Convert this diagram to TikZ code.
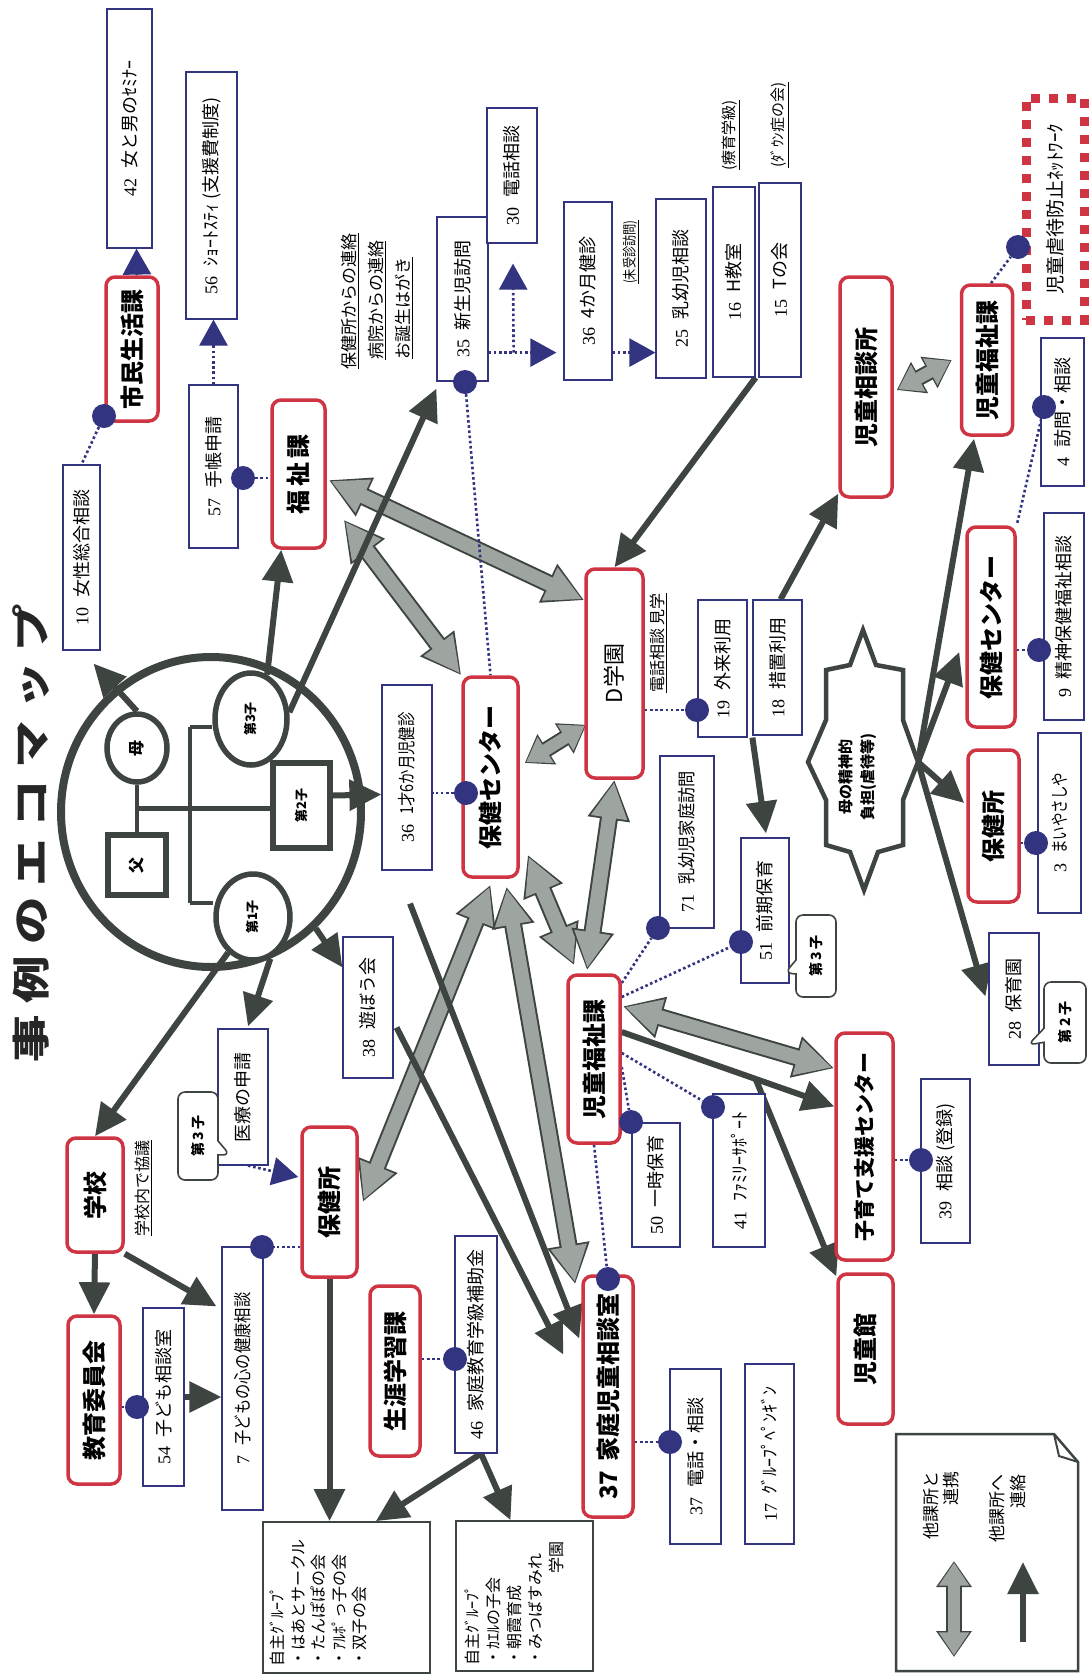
\documentclass[tikz,border=0pt]{standalone}
\usepackage{fontspec}
\usepackage{graphicx}
\setmainfont{Noto Sans CJK JP}
\newfontfamily\numfont{Liberation Serif}
\usepackage{tikz}
\usetikzlibrary{calc,arrows.meta,shapes.geometric,shapes.callouts}
\pgfdeclarelayer{background}
\pgfdeclarelayer{links}
\pgfsetlayers{background,links,main}

\definecolor{boxred}{RGB}{206,52,66}
\definecolor{navy}{RGB}{50,52,128}
\definecolor{darkline}{RGB}{62,68,64}
\definecolor{linkgray}{RGB}{158,165,161}

\newcommand{\vt}[1]{\rotatebox{90}{#1}}
\newcommand{\nb}[3][1]{\rotatebox{90}{{\numfont #2}\hspace{0.55em}\scalebox{#1}[1]{#3}}}
\newcommand{\undertxt}[2][1]{\rotatebox{90}{\scalebox{#1}[1]{\underline{#2}}}}
\newcommand{\fatlink}[2]{\draw[fatout] #1 -- #2; \draw[fatin] #1 -- #2;}
\newcommand{\fatlinkS}[2]{\draw[fatoutS] #1 -- #2; \draw[fatinS] #1 -- #2;}

\begin{document}
\begin{tikzpicture}[x=1pt, y=-1pt,
    agency/.style={draw=boxred, line width=3.5pt, rounded corners=9pt, fill=white, inner sep=0pt, font=\fontsize{24}{28}\selectfont\bfseries},
    service/.style={draw=navy, line width=1.2pt, fill=white, inner sep=0pt, font=\fontsize{18}{21}\selectfont},
    group/.style={draw=darkline, line width=1.8pt, fill=white, inner sep=0pt},
    dot/.style={circle, fill=navy, minimum size=24pt, inner sep=0pt},
    dotline/.style={navy, line width=2.6pt, dash pattern=on 2.6pt off 2.6pt},
    navarrow/.style={dotline, -{Triangle[length=26pt,width=28pt]}},
    contact/.style={darkline, line width=6pt, -{Triangle[length=32pt,width=30pt]}},
    fatout/.style={darkline, line width=18pt, {Triangle[length=40pt,width=40pt]}-{Triangle[length=40pt,width=40pt]}},
    fatin/.style={linkgray, line width=14pt, shorten <=2.2pt, shorten >=2.2pt, {Triangle[length=36pt,width=34pt]}-{Triangle[length=36pt,width=34pt]}},
    fatoutS/.style={darkline, line width=16pt, {Triangle[length=26pt,width=34pt]}-{Triangle[length=26pt,width=34pt]}},
    fatinS/.style={linkgray, line width=12pt, shorten <=1.6pt, shorten >=1.6pt, {Triangle[length=23pt,width=29pt]}-{Triangle[length=23pt,width=29pt]}},
    member/.style={draw=darkline, line width=5.5pt, fill=white, inner sep=0pt, font=\fontsize{13}{15}\selectfont\bfseries},
    kin/.style={darkline, line width=4.5pt},
    note/.style={inner sep=0pt, font=\fontsize{17}{20}\selectfont},
    bubble/.style={rectangle callout, draw=darkline, line width=1.6pt, fill=white, rounded corners=7pt, inner sep=0pt, callout pointer width=14pt, font=\fontsize{14}{16}\selectfont\bfseries}]

  \begin{pgfonlayer}{background}
    \fill[white] (0,0) rectangle (1089,1674);
  \end{pgfonlayer}
  \useasboundingbox (0,0) rectangle (1089,1674);

  \node[inner sep=0pt, font=\fontsize{38}{40}\selectfont\bfseries, text=black!85] (title) at (31,833)
    {\vt{\scalebox{1.25}[1]{事\kern9pt 例\kern9pt の\kern9pt エ\kern9pt コ\kern9pt マ\kern9pt ッ\kern9pt プ}}};

  % family
  \node[ellipse, draw=darkline, line width=8pt, minimum width=300pt, minimum height=310pt] (fam) at (211,812) {};
  \node[member, ellipse, minimum width=60pt, minimum height=68pt, font=\fontsize{16}{18}\selectfont\bfseries] (mother) at (137,748) {\vt{母}};
  \node[member, ellipse, minimum width=72pt, minimum height=92pt] (c3) at (251,719) {\vt{第3子}};
  \node[member, minimum width=57pt, minimum height=85pt] (c2) at (301.5,805.5) {\vt{第2子}};
  \node[member, minimum width=58pt, minimum height=60pt, font=\fontsize{16}{18}\selectfont\bfseries] (father) at (137,865) {\vt{父}};
  \node[member, ellipse, minimum width=74pt, minimum height=86pt] (c1) at (253,917) {\vt{第1子}};
  \coordinate (sibT) at (190,727);
  \coordinate (sibB) at (190,903);
  \coordinate (pm) at ($(mother.south)!0.5!(father.north)$);

  % agencies
  \node[agency, minimum width=52pt, minimum height=144pt] (shimin) at (132,349) {\vt{市民生活課}};
  \node[agency, minimum width=53pt, minimum height=148pt] (fukushi) at (298.5,474) {\vt{福\,祉\,課}};
  \node[agency, minimum width=52pt, minimum height=220pt] (jisou) at (866,387) {\vt{児童相談所}};
  \node[agency, minimum width=51pt, minimum height=150pt] (jifukuB) at (987,360) {\vt{児童福祉課}};
  \node[agency, minimum width=57pt, minimum height=209pt, font=\fontsize{22}{26}\selectfont] (dgak) at (614.5,673.5) {\vt{D学園}};
  \node[agency, minimum width=55pt, minimum height=200pt] (hcA) at (490.5,777) {\vt{保健センター}};
  \node[agency, minimum width=48pt, minimum height=200pt] (hcB) at (991,627) {\vt{保健センター}};
  \node[agency, minimum width=51pt, minimum height=152pt] (hjB) at (993.5,826) {\vt{保健所}};
  \node[agency, minimum width=52pt, minimum height=168pt] (jifukuA) at (594,1059) {\vt{児童福祉課}};
  \node[agency, minimum width=57pt, minimum height=227pt, font=\fontsize{21}{25}\selectfont\bfseries] (kosodate) at (864.5,1146.5) {\vt{子育て支援センター}};
  \node[agency, minimum width=55pt, minimum height=150pt] (jidokan) at (865.5,1349) {\vt{児童館}};
  \node[agency, minimum width=55pt, minimum height=150pt] (hjA) at (329.5,1202) {\vt{保健所}};
  \node[agency, minimum width=56pt, minimum height=114pt] (gakko) at (95,1195) {\vt{学校}};
  \node[agency, minimum width=52pt, minimum height=168pt] (kyoiku) at (94,1400) {\vt{教育委員会}};
  \node[agency, minimum width=50pt, minimum height=170pt] (shogai) at (395,1371) {\vt{生涯学習課}};
  \node[agency, minimum width=50pt, minimum height=241pt] (katei) at (608,1396.5) {\vt{37\hspace{0.4em}家庭児童相談室}};

  % services
  \node[service, minimum width=45pt, minimum height=239pt] (b42) at (129.5,128.5) {\nb{42}{女と男のｾﾐﾅｰ}};
  \node[service, minimum width=51pt, minimum height=247pt] (b56) at (211.5,195.5) {\nb{56}{ｼｮｰﾄｽﾃｨ (支援費制度)}};
  \node[service, minimum width=49pt, minimum height=163pt] (b57) at (213.5,466.5) {\nb{57}{手帳申請}};
  \node[service, minimum width=37pt, minimum height=185pt] (b10) at (81.5,557.5) {\nb{10}{女性総合相談}};
  \node[service, minimum width=51pt, minimum height=164pt] (b35) at (462.5,299) {\nb{35}{新生児訪問}};
  \node[service, minimum width=50pt, minimum height=135pt] (b30) at (512,175.5) {\nb{30}{電話相談}};
  \node[service, minimum width=48pt, minimum height=178pt] (b36a) at (588,291) {\nb{36}{4か月健診}};
  \node[service, minimum width=50pt, minimum height=179pt] (b25) at (681,288.5) {\nb{25}{乳幼児相談}};
  \node[service, minimum width=42pt, minimum height=190pt] (b16) at (734,282) {\nb{16}{H教室}};
  \node[service, minimum width=42pt, minimum height=194pt] (b15) at (780,280) {\nb{15}{Tの会}};
  \node[service, minimum width=43pt, minimum height=148pt] (b4) at (1062.5,412) {\nb{4}{訪問・相談}};
  \node[service, minimum width=40pt, minimum height=207pt] (b9) at (1064,616.5) {\nb{9}{精神保健福祉相談}};
  \node[service, minimum width=43pt, minimum height=180pt] (b3) at (1059.5,823) {\nb[0.75]{3}{まいやさしや}};
  \node[service, minimum width=50pt, minimum height=132pt] (b28) at (1014,999) {\nb{28}{保育園}};
  \node[service, minimum width=48pt, minimum height=145pt] (b51) at (765,910.5) {\nb{51}{前期保育}};
  \node[service, minimum width=54pt, minimum height=172pt] (b71) at (687,842) {\nb[0.9]{71}{乳幼児家庭訪問}};
  \node[service, minimum width=49pt, minimum height=137pt] (b19) at (722.5,668.5) {\nb{19}{外来利用}};
  \node[service, minimum width=49pt, minimum height=135pt] (b18) at (777.5,667.5) {\nb{18}{措置利用}};
  \node[service, minimum width=50pt, minimum height=185pt] (b36b) at (407,777.5) {\nb[0.8]{36}{1才6か月児健診}};
  \node[service, minimum width=50pt, minimum height=141pt] (b38) at (368,1007.5) {\nb{38}{遊ぼう会}};
  \node[service, minimum width=50pt, minimum height=136pt] (shinsei) at (243,1097) {\vt{医療の申請}};
  \node[service, minimum width=41pt, minimum height=263pt] (b7) at (242.5,1378.5) {\nb[0.85]{7}{子どもの心の健康相談}};
  \node[service, minimum width=41pt, minimum height=178pt] (b54) at (163.5,1397) {\nb{54}{子ども相談室}};
  \node[service, minimum width=42pt, minimum height=217pt] (b46) at (476,1344.5) {\nb{46}{家庭教育学級補助金}};
  \node[service, minimum width=51pt, minimum height=175pt] (b37) at (695.5,1456.5) {\nb{37}{電話・相談}};
  \node[service, minimum width=49pt, minimum height=180pt] (b17) at (769.5,1454) {\nb{17}{ｸﾞﾙｰﾌﾟﾍﾟﾝｷﾞﾝ}};
  \node[service, minimum width=48pt, minimum height=124pt] (b50) at (656,1185) {\nb{50}{一時保育}};
  \node[service, minimum width=52pt, minimum height=153pt] (b41) at (739,1170.5) {\nb{41}{ﾌｧﾐﾘｰｻﾎﾟｰﾄ}};
  \node[service, minimum width=49pt, minimum height=164pt] (b39) at (945.5,1161) {\nb{39}{相談 (登録)}};

  % self-help groups
  \node[group, minimum width=167pt, minimum height=151pt] (grp1) at (346.5,1597.5) {};
  \node[inner sep=0pt, anchor=south west, font=\fontsize{16}{20.5}\selectfont] (grp1txt) at ($(grp1.south west)+(7,-7)$)
    {\vt{\begin{tabular}{@{}l@{}}自主ｸﾞﾙｰﾌﾟ\\・はあとサークル\\・たんぽぽの会\\・ｱﾙﾎﾟっ子の会\\・双子の会\end{tabular}}};
  \node[group, minimum width=137pt, minimum height=150pt] (grp2) at (524.5,1596) {};
  \node[inner sep=0pt, anchor=south west, font=\fontsize{16}{21}\selectfont] (grp2txt) at ($(grp2.south west)+(8,-6)$)
    {\vt{\begin{tabular}{@{}l@{}}自主ｸﾞﾙｰﾌﾟ\\・ｶｴﾙの子会\\・朝霞育成\\・みつばすみれ\\\hspace*{92pt}学園\end{tabular}}};

  % network
  \node[draw=boxred, line width=9pt, dash pattern=on 9pt off 9pt, minimum width=58pt, minimum height=222pt, inner sep=0pt, font=\fontsize{19}{22}\selectfont] (net) at (1055,209) {\vt{児童虐待防止ﾈｯﾄﾜｰｸ}};

  % stress of mother
  \begin{scope}[shift={(863,760)}]
    \draw[darkline, line width=4.5pt, fill=white] (0,-130) -- (-13,-95) -- (-37,-90) -- (-37,-40) -- (-55,2) -- (-37,40) -- (-37,85) -- (-13,92) -- (1,130) -- (15,92) -- (40,85) -- (40,40) -- (55,2) -- (40,-40) -- (40,-90) -- (13,-95) -- cycle;
  \end{scope}
  \node[inner sep=0pt, font=\fontsize{15}{22}\selectfont\bfseries] (mstress) at (858,777)
    {\vt{\begin{tabular}{@{}c@{}}母の精神的\\負担(虐待等)\end{tabular}}};
  \coordinate (spike) at (918,762);

  % underlined notes
  \node[note] (nHoken) at (350,301) {\undertxt{保健所からの連絡}};
  \node[note] (nByoin) at (377,300) {\undertxt{病院からの連絡}};
  \node[note] (nBirth) at (404,308) {\undertxt{お誕生はがき}};
  \node[note, font=\fontsize{14}{16}\selectfont] (nMiju) at (631,252) {\undertxt[0.8]{(未受診訪問)}};
  \node[note, font=\fontsize{15}{17}\selectfont] (nRyoiku) at (731,135) {\undertxt{(療育学級)}};
  \node[note, font=\fontsize{15}{17}\selectfont] (nDown) at (780,125) {\undertxt{(ﾀﾞｳﾝ症の会)}};
  \node[note, font=\fontsize{16}{18}\selectfont] (nDgak) at (658,643) {\undertxt{電話相談 見学}};
  \node[note, font=\fontsize{16}{18}\selectfont] (nGakko) at (143,1188) {\undertxt{学校内で協議}};

  % speech bubbles
  \node[bubble, minimum width=40pt, minimum height=88pt, callout absolute pointer={(230,1155)}] (bubA) at (198,1136) {\vt{第\,3\,子}};
  \node[bubble, minimum width=40pt, minimum height=82pt, callout absolute pointer={(785,973)}] (bubB) at (816,956) {\vt{第\,3\,子}};
  \node[bubble, minimum width=42pt, minimum height=81pt, callout absolute pointer={(1028,1045)}] (bubC) at (1065,1022.5) {\vt{第\,2\,子}};

  % dots
  \node[dot] (dShimin) at (104,416) {};
  \node[dot] (d57) at (243,478) {};
  \node[dot] (d35) at (465,382) {};
  \node[dot] (d36b) at (466,793) {};
  \node[dot] (d19) at (697,710) {};
  \node[dot] (d71) at (658,928) {};
  \node[dot] (d51) at (741,942) {};
  \node[dot] (d50) at (631,1122) {};
  \node[dot] (d41) at (713,1107) {};
  \node[dot] (dKatei) at (608,1279) {};
  \node[dot] (d39) at (921,1160) {};
  \node[dot] (d37) at (670,1442) {};
  \node[dot] (d46) at (455,1359) {};
  \node[dot] (d54) at (137,1407) {};
  \node[dot] (d7) at (262,1247) {};
  \node[dot] (dNet) at (1018,247) {};
  \node[dot] (d4) at (1044,407) {};
  \node[dot] (d9) at (1039,650) {};
  \node[dot] (d3) at (1036,843) {};

  % legend
  \draw[darkline, line width=2.5pt, fill=white] (896,1434) -- (1054,1434) -- (1078,1462) -- (1078,1671) -- (896,1671) -- cycle;
  \draw[darkline, line width=2pt] (1054,1434) -- (1059,1456) -- (1078,1462);
  \node[inner sep=0pt, font=\fontsize{17}{19}\selectfont] (lgText1) at (943,1505) {\vt{\begin{tabular}{@{}r@{}}他課所と\\連携\end{tabular}}};
  \node[inner sep=0pt, font=\fontsize{17}{20}\selectfont] (lgText2) at (1010,1508) {\vt{\begin{tabular}{@{}r@{}}他課所へ\\連絡\end{tabular}}};
  \coordinate (lgA) at (954,1561);
  \coordinate (lgB) at (954,1657);
  \coordinate (lgC) at (1023,1642);
  \coordinate (lgD) at (1023,1562);
  \fatlinkS{(lgA)}{(lgB)}
  \draw[contact] (lgC) -- (lgD);

  \coordinate (hkA) at ($(b36b.south)+(3,33)$);
  \coordinate (hkB) at ($(b38.east)+(3,20)$);
  \coordinate (ka) at ($(jifukuA.east)+(0,-27)$);
  \coordinate (kb) at ($(kosodate.west)+(0,-40)$);
  \coordinate (nbr) at ($(b35.south east)+(25,-29)$);

  \begin{pgfonlayer}{links}
    % genogram
    \draw[kin] (mother.south) -- (father.north);
    \draw[kin] (pm) -- (pm -| c2.west);
    \draw[kin] (sibT) -- (sibB);
    \draw[kin] (sibT) -- (sibT -| c3.west);
    \draw[kin] (sibB) -- (sibB -| c1.west);

    % cooperation
    \fatlink{($(fukushi.east)+(2,6)$)}{($(dgak.north west)+(0,33)$)}
    \fatlink{($(fukushi.south east)+(17,-30)$)}{(hcA.north west)}
    \fatlinkS{($(hcA.east)+(5,-14)$)}{($(dgak.south west)+(2,-55)$)}
    \fatlink{($(hcA.south east)+(8,-24)$)}{($(jifukuA.north west)+(8,-8)$)}
    \fatlink{(dgak.south)}{($(jifukuA.north)+(-7,-3)$)}
    \fatlink{($(hcA.south)+(0,6)$)}{($(hjA.east)+(4,0)$)}
    \fatlink{($(hcA.south)+(16,8)$)}{($(katei.north west)+(-6,10)$)}
    \fatlink{($(jifukuA.north east)+(1,33)$)}{($(kosodate.north west)+(0,37)$)}
    \fatlinkS{($(jisou.east)+(3,3)$)}{($(jifukuB.west)+(-8,0)$)}

    % contact
    \draw[contact] (mother.north) -- ($(b10.south)+(12,13)$);
    \draw[contact] (c3.70) -- ($(fukushi.south west)+(11,0)$);
    \draw[contact] (c3.10) -- ($(b35.south west)+(0,7)$);
    \draw[contact] ($(c2.east)+(0,-10)$) -- ($(b36b.west)+(0,17)$);
    \draw[contact] (fam.-48) -- ($(b38.north west)+(0,31)$);
    \draw[contact] (fam.-68) -- ($(shinsei.north)+(5,-2)$);
    \draw[contact] (c1.-125) -- (gakko.north);
    \draw[contact] (gakko.south) -- (kyoiku.north);
    \draw[contact] (gakko.south east) -- ($(b7.north west)+(-5,60)$);
    \draw[contact] (b54.east) -- (b54.east -| b7.west);
    \draw[contact] (hjA.south) -- (hjA.south |- grp1.north);
    \draw[contact] ($(b46.south)+(5,0)$) -- ($(grp1.north east)+(-55,0)$);
    \draw[contact] ($(b46.south)+(5,0)$) -- ($(grp2.north)+(-14,0)$);
    \draw[contact] (hkA) -- ($(katei.west)+(-2,-58)$);
    \draw[contact] (hkB) -- ($(katei.west)+(-18,-42)$);
    \draw[contact] (b16.south east) -- (dgak.north);
    \draw[contact] ($(b18.north)+(3,0)$) -- ($(jisou.south west)+(0,-5)$);
    \draw[contact] ($(b18.south west)+(0,2)$) -- ($(b51.north)+(1,-4)$);
    \draw[contact] (spike) -- ($(jifukuB.south)+(-13,2)$);
    \draw[contact] (spike) -- ($(hcB.west)+(-6,25)$);
    \draw[contact] (spike) -- ($(hjB.west)+(-2,-23)$);
    \draw[contact] (spike) -- ($(b28.north west)+(-3,64)$);
    \draw[contact] (ka) -- (kb);
    \draw[contact] ($(ka)!0.63!(kb)$) -- ($(jidokan.north west)+(0,4)$);

    % dotted links
    \draw[navarrow] ($(shimin.north)+(5,0)$) -- ($(b42.south)+(7,0)$);
    \draw[navarrow] (b57.north) -- (b57.north |- b56.south);
    \draw[navarrow] ($(b35.south east)+(0,-29)$) -- ($(b36a.south west)+(-7,-28)$);
    \draw[navarrow] (nbr) -- ($(b30.south)+(1,20)$);
    \draw[navarrow] ($(b36a.south east)+(0,-28)$) -- ($(b25.south west)+(0,-26)$);
    \draw[navarrow] ($(shinsei.south)+(5,0)$) -- ($(hjA.west)+(-2,-25)$);
    \draw[dotline] (dShimin) -- (b10.north);
    \draw[dotline] (d57) -- (d57 -| fukushi.west);
    \draw[dotline] (d35) -- (hcA.north);
    \draw[dotline] (d36b) -- (d36b -| b36b.east);
    \draw[dotline] (dgak.east |- d19) -- (d19);
    \draw[dotline] ($(jifukuA.east)+(0,-76)$) -- (d71);
    \draw[dotline] ($(jifukuA.east)+(0,-62)$) -- (d51);
    \draw[dotline] ($(jifukuA.east)+(0,-6)$) -- (d41);
    \draw[dotline] ($(jifukuA.east)+(0,8)$) -- (d50);
    \draw[dotline] (jifukuA.south) -- (dKatei);
    \draw[dotline] (kosodate.east |- d39) -- (d39);
    \draw[dotline] (katei.east |- d37) -- (d37);
    \draw[dotline] (shogai.east |- d46) -- (d46);
    \draw[dotline] (kyoiku.east |- d54) -- (d54);
    \draw[dotline] (hjA.west |- d7) -- (d7);
    \draw[dotline] ($(jifukuB.north)+(4,0)$) -- (dNet);
    \draw[dotline] (d4) -- (hcB.north east);
    \draw[dotline] (hcB.east |- d9) -- (d9);
    \draw[dotline] (hjB.east |- d3) -- (d3);
  \end{pgfonlayer}
\end{tikzpicture}
\end{document}
